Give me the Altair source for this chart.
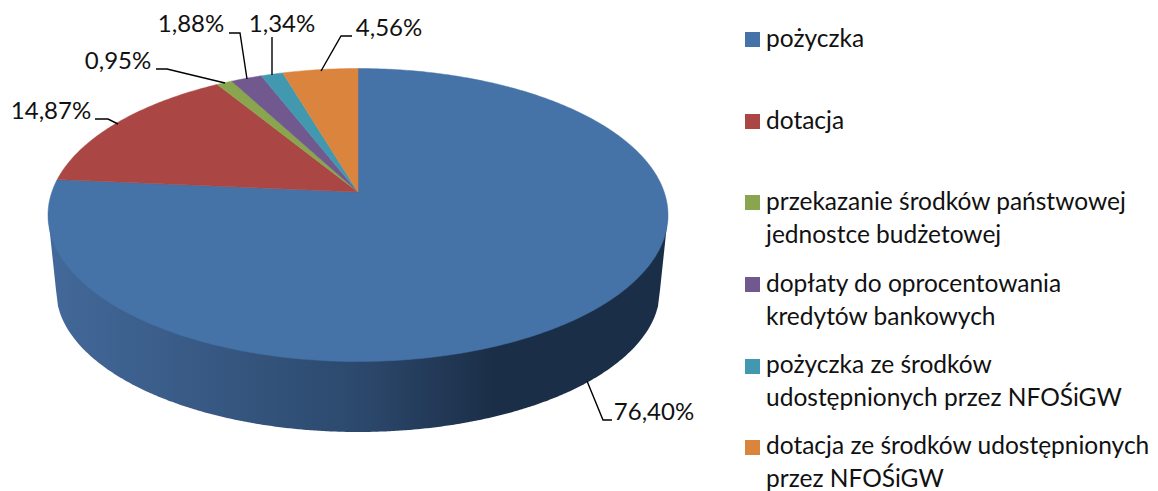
import math
import altair as alt
import pandas as pd

categories = ["pożyczka", "dotacja", "przekazanie środków państwowej", "dopłaty do oprocentowania",
              "pożyczka ze środków", "dotacja ze środków udostępnionych"]
second_lines = ["", "", "jednostce budżetowej", "kredytów bankowych", "udostępnionych przez NFOŚiGW", "przez NFOŚiGW"]
values = [76.40, 14.87, 0.95, 1.88, 1.34, 4.56]
colors = ["#4572A7", "#AA4643", "#89A54E", "#71588F", "#4198AF", "#DB843D"]

label_x = [654, 51, 118, 191, 282, 389]
label_y = [413, 112, 62, 25, 24.5, 29]
leaders = [
    [(587, 381), (603, 420), (612, 420)],
    [(95, 119), (108, 119), (118, 124)],
    [(156, 69), (167, 69), (225, 83)],
    [(229, 33), (240, 33), (247, 79)],
    [(272, 37), (272, 75)],
    [(352, 36), (341, 36), (321, 71)],
]
swatch_y = [39.5, 121.5, 202.5, 284.5, 366.5, 447.5]
baseline_1 = [47, 129, 210, 292, 373, 454]
baseline_2 = [None, None, 243, 325, 406, 487]

CX, CY, RX, RY, APEX_Y = 358, 215, 310, 146.5, 192
BOTTOM_CY, BOTTOM_RX, BOTTOM_RY = 290, 302, 142
P = (CY - APEX_Y) / RY
TOTAL = sum(values)


def rim(fraction):
    th = 2 * math.pi * fraction
    sx, cy = math.sin(th), math.cos(th)
    k = 1 + P * cy
    ex = sx * math.sqrt(1 - P * P) / k
    ey = (cy + P) / k
    return CX + RX * ex, CY - RY * ey


slice_rows = []
start = 0.0
for i, v in enumerate(values):
    end = start + v / TOTAL
    n = max(3, int(v * 6))
    pts = [(CX, APEX_Y)] + [rim(start + (end - start) * j / n) for j in range(n + 1)] + [(CX, APEX_Y)]
    for j, (x, y) in enumerate(pts):
        slice_rows.append({"cat": categories[i], "x": x, "y": y, "o": j, "col": colors[i]})
    start = end

wall_rows = []
wall_left, wall_right = CX - RX, CX + RX
for px in range(wall_left, wall_right + 1, 2):
    d = abs(px - CX)
    if d > BOTTOM_RX:
        low = CY + (RX - d) / (RX - BOTTOM_RX) * (BOTTOM_CY - CY)
    else:
        low = BOTTOM_CY + BOTTOM_RY * math.sqrt(1 - (d / BOTTOM_RX) ** 2)
    wall_rows.append({"x": px, "y": CY, "y2": low})

X = alt.X("x:Q", scale=alt.Scale(domain=[8, 1150], range=[0, 1142]), axis=None)
Y = alt.Y("y:Q", scale=alt.Scale(domain=[8, 491], range=[0, 483]), axis=None)

wall = alt.Chart(pd.DataFrame(wall_rows)).mark_area(
    color=alt.Gradient(
        gradient="linear", x1=0, x2=1, y1=0, y2=0,
        stops=[
            alt.GradientStop(offset=0, color="#43699A"),
            alt.GradientStop(offset=0.5, color="#2C496D"),
            alt.GradientStop(offset=0.72, color="#1B2E47"),
            alt.GradientStop(offset=1, color="#1B2E47"),
        ],
    )
).encode(x=X, y=Y, y2="y2:Q")

top = alt.Chart(pd.DataFrame(slice_rows)).mark_line(strokeWidth=0.5).encode(
    x=X, y=Y, detail="cat:N", order="o:Q",
    stroke=alt.Stroke("col:N", scale=None), fill=alt.Fill("col:N", scale=None),
)

leader_rows = [
    {"k": i, "o": j, "x": x, "y": y}
    for i, pts in enumerate(leaders) for j, (x, y) in enumerate(pts)
]
lead = alt.Chart(pd.DataFrame(leader_rows)).mark_line(color="#000000", strokeWidth=1.4).encode(
    x=X, y=Y, detail="k:N", order="o:Q"
)

pct = pd.DataFrame({
    "x": label_x, "y": label_y,
    "t": [f"{v:.2f}%".replace(".", ",") for v in values],
})
FONT = "Lato"
pct_text = alt.Chart(pct).mark_text(font=FONT, fontSize=24, color="#111111", align="center", baseline="middle").encode(
    x=X, y=Y, text="t:N"
)

swatches = alt.Chart(pd.DataFrame({"x": [752.5] * 6, "y": swatch_y, "col": colors})).mark_square(
    size=225, opacity=1, filled=True
).encode(x=X, y=Y, color=alt.Color("col:N", scale=None))

legend_rows = []
for name, second, b1, b2 in zip(categories, second_lines, baseline_1, baseline_2):
    legend_rows.append({"x": 766, "y": b1, "t": name})
    if second:
        legend_rows.append({"x": 766, "y": b2, "t": second})
legend_text = alt.Chart(pd.DataFrame(legend_rows)).mark_text(
    font=FONT, fontSize=24.5, color="#111111", align="left", baseline="alphabetic"
).encode(x=X, y=Y, text="t:N")

chart = alt.layer(wall, top, lead, pct_text, swatches, legend_text).properties(
    width=1142, height=483, padding=0, background="white", autosize=alt.AutoSizeParams(type="none")
).configure_view(strokeWidth=0)

chart.save("out.html", embed_options={"renderer": "svg", "actions": False})
